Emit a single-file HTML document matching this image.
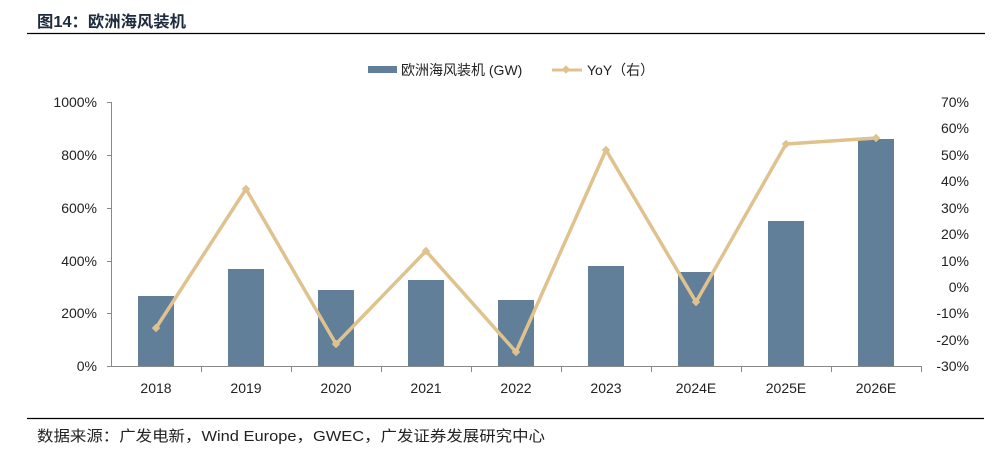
<!DOCTYPE html>
<html><head><meta charset="utf-8"><style>
body{margin:0;background:#fff;}
svg{display:block;font-family:"Liberation Sans","Noto Sans CJK SC",sans-serif;}
</style></head><body>
<svg width="1006" height="463" viewBox="0 0 1006 463">
<text x="37" y="27" font-size="16" font-weight="bold" fill="#1d2b3c" textLength="149" lengthAdjust="spacingAndGlyphs">图14：欧洲海风装机</text>
<line x1="27" y1="33.5" x2="985" y2="33.5" stroke="#000" stroke-width="1.3"/>
<rect x="368" y="66" width="29" height="7" fill="#627f99"/>
<text x="401" y="75" font-size="14" fill="#222">欧洲海风装机 (GW)</text>
<line x1="552" y1="70" x2="582" y2="70" stroke="#dfc28e" stroke-width="3"/>
<rect x="563" y="66.5" width="6" height="6" fill="#dfc28e" transform="rotate(45 566 69.5)"/>
<text x="587" y="75" font-size="14" fill="#222">YoY（右）</text>
<g font-size="14" fill="#222" text-anchor="end">
<text x="97" y="107">1000%</text><text x="97" y="160">800%</text><text x="97" y="213">600%</text>
<text x="97" y="266">400%</text><text x="97" y="318">200%</text><text x="97" y="371">0%</text>
</g>
<g font-size="14" fill="#222" text-anchor="end">
<text x="969" y="107">70%</text><text x="969" y="133">60%</text><text x="969" y="160">50%</text>
<text x="969" y="186">40%</text><text x="969" y="213">30%</text><text x="969" y="239">20%</text>
<text x="969" y="266">10%</text><text x="969" y="292">0%</text><text x="969" y="318">-10%</text>
<text x="969" y="345">-20%</text><text x="969" y="371">-30%</text>
</g>
<g stroke="#888" stroke-width="1">
<line x1="111.5" y1="102" x2="111.5" y2="367"/>
<line x1="107" y1="102.5" x2="111" y2="102.5"/><line x1="107" y1="155.5" x2="111" y2="155.5"/>
<line x1="107" y1="208.5" x2="111" y2="208.5"/><line x1="107" y1="261.5" x2="111" y2="261.5"/>
<line x1="107" y1="313.5" x2="111" y2="313.5"/><line x1="107" y1="366.5" x2="111" y2="366.5"/>
<line x1="111" y1="366.5" x2="921" y2="366.5"/>
<line x1="201.5" y1="366" x2="201.5" y2="372"/><line x1="291.5" y1="366" x2="291.5" y2="372"/>
<line x1="381.5" y1="366" x2="381.5" y2="372"/><line x1="471.5" y1="366" x2="471.5" y2="372"/>
<line x1="561.5" y1="366" x2="561.5" y2="372"/><line x1="651.5" y1="366" x2="651.5" y2="372"/>
<line x1="741.5" y1="366" x2="741.5" y2="372"/><line x1="831.5" y1="366" x2="831.5" y2="372"/>
<line x1="921.5" y1="366" x2="921.5" y2="372"/>
</g>
<g fill="#627f99">
<rect x="138" y="296" width="36" height="70"/>
<rect x="228" y="269" width="36" height="97"/>
<rect x="318" y="290" width="36" height="76"/>
<rect x="408" y="280" width="36" height="86"/>
<rect x="498" y="300" width="36" height="66"/>
<rect x="588" y="266" width="36" height="100"/>
<rect x="678" y="272" width="36" height="94"/>
<rect x="768" y="221" width="36" height="145"/>
<rect x="858" y="139" width="36" height="227"/>
</g>
<polyline fill="none" stroke="#dfc28e" stroke-width="3.5" stroke-linejoin="round" points="156,328 246,189 336,344 426,251 516,352 606,150 696,302 786,144 876,138"/>
<g fill="#dfc28e">
<rect x="153" y="325" width="6" height="6" transform="rotate(45 156 328)"/>
<rect x="243" y="186" width="6" height="6" transform="rotate(45 246 189)"/>
<rect x="333" y="341" width="6" height="6" transform="rotate(45 336 344)"/>
<rect x="423" y="248" width="6" height="6" transform="rotate(45 426 251)"/>
<rect x="513" y="349" width="6" height="6" transform="rotate(45 516 352)"/>
<rect x="603" y="147" width="6" height="6" transform="rotate(45 606 150)"/>
<rect x="693" y="299" width="6" height="6" transform="rotate(45 696 302)"/>
<rect x="783" y="141" width="6" height="6" transform="rotate(45 786 144)"/>
<rect x="873" y="135" width="6" height="6" transform="rotate(45 876 138)"/>
</g>
<g font-size="14" fill="#222" text-anchor="middle">
<text x="156" y="393">2018</text><text x="246" y="393">2019</text><text x="336" y="393">2020</text>
<text x="426" y="393">2021</text><text x="516" y="393">2022</text><text x="606" y="393">2023</text>
<text x="696" y="393">2024E</text><text x="786" y="393">2025E</text><text x="876" y="393">2026E</text>
</g>
<line x1="27" y1="418.5" x2="984" y2="418.5" stroke="#000" stroke-width="1.2"/>
<text x="37" y="441" font-size="15" fill="#222" textLength="508" lengthAdjust="spacingAndGlyphs">数据来源：广发电新，Wind Europe，GWEC，广发证券发展研究中心</text>
</svg>
</body></html>
